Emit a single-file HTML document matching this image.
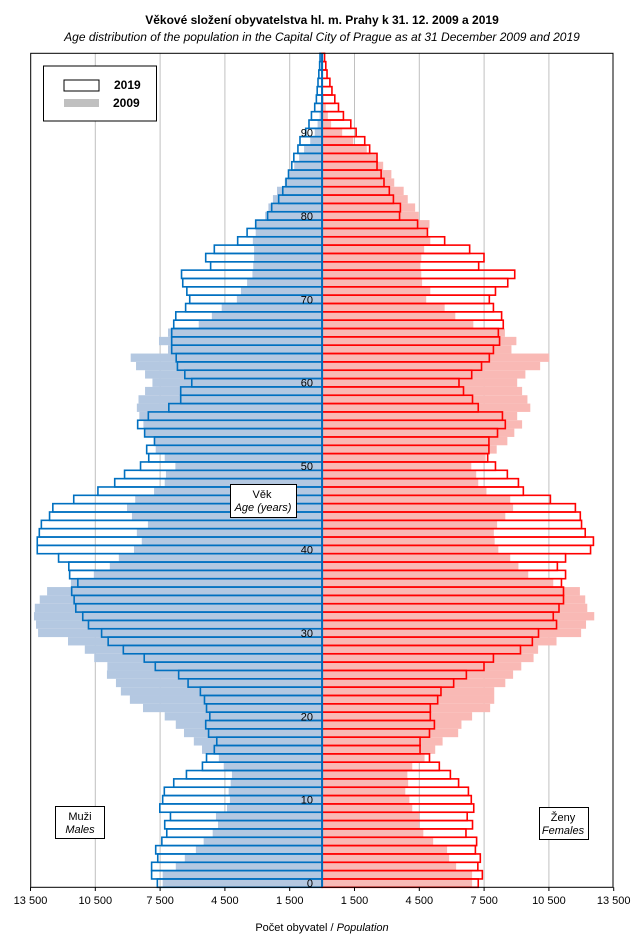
<!DOCTYPE html>
<html><head><meta charset="utf-8"><style>
html,body{margin:0;padding:0;background:#fff;}
svg{display:block;font-family:"Liberation Sans",sans-serif;}
</style></head><body>
<svg id="s" width="643" height="945" viewBox="0 0 643 945" xmlns="http://www.w3.org/2000/svg">
<rect x="0" y="0" width="643" height="945" fill="#fff"/>
<text x="322" y="24" text-anchor="middle" font-size="12" font-weight="bold">Věkové složení obyvatelstva  hl. m. Prahy k 31. 12. 2009 a 2019</text>
<text x="322" y="41" text-anchor="middle" font-size="12" font-style="italic">Age distribution of the population  in the Capital City of Prague as at 31 December 2009 and 2019</text>
<g id="grid" stroke="#c0c0c0" stroke-width="1"></g>
<g id="b09"></g>
<g id="b19" fill="none" stroke-width="1.6"></g>
<rect x="30.7" y="53.3" width="582.3" height="834" fill="none" stroke="#000" stroke-width="1"/>
<g id="ages" font-size="11" text-anchor="end"></g>
<g id="ticks" font-size="11" text-anchor="middle"></g>
<rect x="43.5" y="66" width="113" height="55" fill="#fff" stroke="#000" stroke-width="1"/>
<rect x="64" y="80" width="35" height="11" fill="#fff" stroke="#000" stroke-width="1"/>
<text x="114" y="89" font-size="12" font-weight="bold">2019</text>
<rect x="64" y="99" width="35" height="8" fill="#c0c0c0"/>
<text x="113" y="107" font-size="12" font-weight="bold">2009</text>
<rect x="230.5" y="484.5" width="66" height="33" fill="#fff" stroke="#000" stroke-width="1"/>
<text x="262" y="498" font-size="11" text-anchor="middle">Věk</text>
<text x="263" y="511" font-size="11" text-anchor="middle" font-style="italic">Age (years)</text>
<rect x="55.5" y="806.5" width="49" height="32" fill="#fff" stroke="#000" stroke-width="1"/>
<text x="80" y="820" font-size="11" text-anchor="middle">Muži</text>
<text x="80" y="833" font-size="11" text-anchor="middle" font-style="italic">Males</text>
<rect x="539.5" y="807.5" width="49" height="32" fill="#fff" stroke="#000" stroke-width="1"/>
<text x="563" y="821" font-size="11" text-anchor="middle">Ženy</text>
<text x="563" y="834" font-size="11" text-anchor="middle" font-style="italic">Females</text>
<text x="322" y="931" font-size="11" text-anchor="middle">Počet obyvatel / <tspan font-style="italic">Population</tspan></text>
</svg>
<script>
(function(){
var NS="http://www.w3.org/2000/svg";
function X(z){return 30.7+(z-75)*0.40985;}
// rows ages 0..99 : [M19, M09, F19, F09] in zoom coords (786 = center)
var d={
0:[384,397,1167,1152],1:[370,397,1177,1152],2:[370,429,1166,1113],3:[385,451,1172,1096],4:[380,478,1160,1091],
5:[395,497,1163,1057],6:[407,519,1137,1033],7:[402,532,1153,1023],8:[416,527,1140,1023],9:[390,554,1156,1006],
10:[397,561,1150,999],11:[401,558,1143,989],12:[424,563,1119,996],13:[455,566,1099,994],14:[494,546,1072,1006],
15:[504,534,1048,1036],16:[523,493,1025,1062],17:[529,473,1025,1080],18:[509,449,1048,1118],19:[502,429,1060,1126],
20:[512,402,1050,1152],21:[504,349,1050,1196],22:[499,317,1068,1206],23:[489,295,1076,1206],24:[459,283,1107,1233],
25:[436,261,1138,1252],26:[379,262,1181,1272],27:[352,230,1204,1302],28:[301,207,1270,1313],29:[264,166,1299,1358],
30:[248,93,1314,1418],31:[216,88,1358,1430],32:[202,83,1350,1450],33:[185,85,1364,1433],34:[181,97,1375,1428],
35:[175,115,1375,1415],36:[190,173,1370,1350],37:[170,229,1380,1289],38:[168,268,1360,1265],39:[143,290,1380,1245],
40:[91,327,1441,1216],41:[91,346,1448,1207],42:[96,334,1428,1205],43:[101,361,1419,1213],44:[121,322,1416,1233],
45:[129,310,1404,1252],46:[180,330,1343,1245],47:[239,376,1277,1187],48:[280,402,1265,1167],49:[304,405,1238,1162],
50:[343,428,1209,1150],51:[363,402,1190,1185],52:[358,380,1193,1212],53:[377,377,1193,1238],54:[353,355,1214,1255],
55:[336,350,1233,1274],56:[362,340,1226,1262],57:[412,334,1167,1294],58:[441,338,1153,1287],59:[441,354,1131,1274],
60:[468,372,1120,1262],61:[451,354,1151,1282],62:[433,332,1175,1318],63:[430,319,1194,1340],64:[419,410,1204,1248],
65:[419,388,1219,1260],66:[419,410,1216,1232],67:[424,485,1228,1155],68:[429,517,1224,1111],69:[453,541,1204,1085],
70:[463,578,1194,1040],71:[456,588,1209,1050],72:[446,603,1239,1030],73:[443,616,1256,1028],74:[514,618,1168,1026],
75:[502,620,1181,1028],76:[523,620,1146,1035],77:[580,617,1085,1050],78:[603,624,1043,1043],79:[624,624,1019,1048],
80:[653,647,975,1022],81:[663,655,977,1013],82:[680,666,960,995],83:[690,676,950,985],84:[698,695,937,962],
85:[704,706,930,955],86:[712,718,920,935],87:[717,730,920,920],88:[727,742,902,895],89:[732,757,890,862],
90:[746,768,869,835],91:[754,775,856,808],92:[760,780,838,800],93:[768,782,826,795],94:[772,784,817,790],
95:[774,786,810,786],96:[776,786,805,786],97:[778,786,798,786],98:[780,786,795,786],99:[781,786,792,786]};
var C=X(786),h=8.34;
var g09=document.getElementById('b09'),g19=document.getElementById('b19');
function r(g,x1,x2,y,attrs){var e=document.createElementNS(NS,'rect');var a=Math.min(x1,x2),b=Math.max(x1,x2);
e.setAttribute('x',a);e.setAttribute('y',y);e.setAttribute('width',Math.max(0,b-a));e.setAttribute('height',h);
for(var k in attrs)e.setAttribute(k,attrs[k]);g.appendChild(e);}
for(var a=0;a<100;a++){var v=d[a];var y=887.3-(a+1)*h;
 if(v[1]<786)r(g09,X(v[1]),C,y,{fill:'#b4c8e1'});
 if(v[3]>786)r(g09,C,X(v[3]),y,{fill:'#f9b9b5'});}
for(var a=0;a<100;a++){var v=d[a];var y=887.3-(a+1)*h;
 r(g19,X(v[0]),C,y,{stroke:'#0070c0'});
 r(g19,C,X(v[2]),y,{stroke:'#ff0000'});}
var ln=document.createElementNS(NS,'line');ln.setAttribute('x1',C);ln.setAttribute('x2',C);ln.setAttribute('y1',53.3);ln.setAttribute('y2',887.3);
ln.setAttribute('stroke','#0070c0');ln.setAttribute('stroke-width','2');g19.appendChild(ln);
var gg=document.getElementById('grid');var step=64.8;
[-3.5,-2.5,-1.5,-0.5,0.5,1.5,2.5,3.5].forEach(function(k){var x=C+k*step;var l=document.createElementNS(NS,'line');
 l.setAttribute('x1',x);l.setAttribute('x2',x);l.setAttribute('y1',53.3);l.setAttribute('y2',887.3);gg.appendChild(l);});
var gt=document.getElementById('ticks');
var labs=['13 500','10 500','7 500','4 500','1 500','1 500','4 500','7 500','10 500','13 500'];
[-4.5,-3.5,-2.5,-1.5,-0.5,0.5,1.5,2.5,3.5,4.5].forEach(function(k,i){var x=C+k*step;var t=document.createElementNS(NS,'text');
 t.setAttribute('x',x);t.setAttribute('y',904);t.textContent=labs[i];gt.appendChild(t);
 var l=document.createElementNS(NS,'line');l.setAttribute('x1',x);l.setAttribute('x2',x);l.setAttribute('y1',887.3);l.setAttribute('y2',891);l.setAttribute('stroke','#000');gt.appendChild(l);});
var ga=document.getElementById('ages');
for(var a=0;a<=90;a+=10){var t=document.createElementNS(NS,'text');t.setAttribute('x',313);t.setAttribute('y',887.3-(a+0.5)*h+4);t.textContent=a;ga.appendChild(t);}
})();
</script>
</body></html>
